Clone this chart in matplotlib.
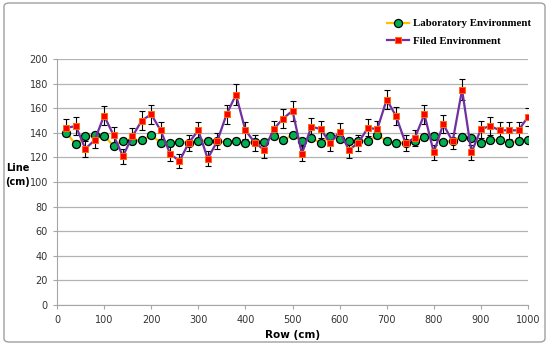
import matplotlib.pyplot as plt
from matplotlib.patches import FancyBboxPatch

rows = list(range(20, 1001, 20))

lab = [140, 130.5, 137, 138, 137.5, 129.5, 133.5, 133.5, 134, 138,
       132, 131.5, 132.5, 132, 133.5, 133.5, 133, 132.5, 133.5, 132,
       132.5, 132.5, 137.5, 134, 138, 133.5, 136, 131.5, 137, 135,
       133, 133.5, 133.5, 138, 133.5, 131.5, 132, 133, 136.5, 137.5,
       132.5, 133.5, 136.5, 135.5, 132, 134, 134, 132, 133.5, 134]

field = [144, 145.5, 127, 134, 154, 138, 121, 137, 150, 155,
         142, 123, 117, 132, 142, 119, 133, 155, 171, 142,
         132, 126, 143, 151.5, 158, 123, 145, 143, 131.5, 141,
         126, 132, 144, 143, 167, 153.5, 131.5, 136, 155, 124,
         147, 133, 175, 124, 143, 145.5, 142, 142, 142, 153]

field_err = [7, 7, 6.5, 6.5, 7.5, 7, 6, 6.5, 7.5, 7.5,
             7, 6, 6, 6.5, 7, 6, 6.5, 7.5, 8.5, 7,
             6.5, 6.5, 7, 7.5, 8, 6, 7, 7, 6.5, 7,
             6.5, 6.5, 7, 7, 8, 7.5, 6.5, 6.5, 7.5, 6,
             7.5, 6.5, 8.5, 6, 7, 7, 7, 7, 7, 7.5]

lab_err = [2] * len(rows)

fig = plt.figure(figsize=(5.5, 3.45), dpi=100)
ax = fig.add_axes([57 / 550, 40 / 345, 471 / 550, 246 / 345])

ax.errorbar(rows, lab, yerr=lab_err, fmt='none', ecolor='black',
            elinewidth=0.8, capsize=2.5, capthick=0.8, zorder=2)
ax.errorbar(rows, field, yerr=field_err, fmt='none', ecolor='black',
            elinewidth=0.8, capsize=2.5, capthick=0.8, zorder=2)
l1, = ax.plot(rows, lab, color='#FFC000', lw=1.6, marker='o', ms=5.8,
              mfc='#00B050', mec='black', mew=0.9, zorder=3,
              label='Laboratory Environment')
l2, = ax.plot(rows, field, color='#7030A0', lw=1.6, marker='s', ms=5,
              mfc='#FF0000', mec='#FF6A00', mew=0.7, zorder=4,
              label='Filed Environment')

ax.set_xlim(0, 1000)
ax.set_ylim(0, 200)
ax.set_xticks(range(0, 1001, 100))
ax.set_yticks(range(0, 201, 20))
ax.yaxis.grid(True, color='#B3B3B3', lw=0.9)
ax.set_axisbelow(True)
for s in ['top', 'right']:
    ax.spines[s].set_visible(False)
for s in ['left', 'bottom']:
    ax.spines[s].set_color('#A6A6A6')
ax.tick_params(axis='both', colors='#A6A6A6', length=3, labelsize=7,
               labelcolor='#333333')
ax.tick_params(axis='x', pad=4)

ax.set_xlabel('Row (cm)', fontsize=7.5, fontweight='bold', labelpad=4)
ax.text(-0.083, 0.53, 'Line\n(cm)', transform=ax.transAxes, fontsize=7,
        fontweight='bold', ha='center', va='center', linespacing=1.5)

fig.legend(handles=[l1, l2], loc='upper right',
           bbox_to_anchor=(541 / 550, 336 / 345), frameon=False,
           prop={'family': 'Liberation Serif', 'weight': 'bold', 'size': 7.8},
           handlelength=2.0, labelspacing=0.75, handletextpad=0.4)

fig.patches.append(FancyBboxPatch((4 / 550, 3 / 345), 541 / 550, 339 / 345,
                                  boxstyle='round,pad=0,rounding_size=0.01',
                                  transform=fig.transFigure, fill=False,
                                  ec='#A0A0A0', lw=1.0))

fig.savefig('out.png', dpi=100)
